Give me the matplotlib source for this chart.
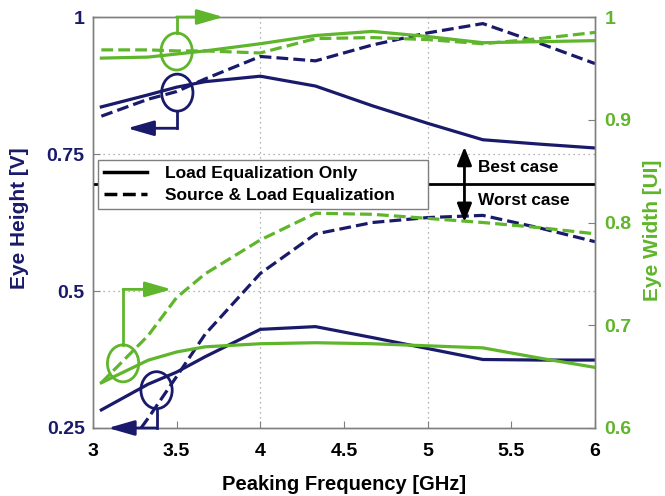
import matplotlib
matplotlib.use('Agg')
import matplotlib.pyplot as plt
from matplotlib.patches import Ellipse
from matplotlib.lines import Line2D

plt.rcParams['font.family'] = ['Liberation Sans', 'DejaVu Sans']
plt.rcParams['font.weight'] = 'bold'

# data
freq = [3.05, 3.33, 3.5, 3.67, 4.0, 4.33, 4.67, 5.0, 5.33, 5.67, 6.0]

# best case (upper curves)
height_best_load = [0.836, 0.858, 0.872, 0.882, 0.892, 0.874, 0.838, 0.806, 0.776, 0.768, 0.761]
height_best_both = [0.819, 0.850, 0.864, 0.887, 0.928, 0.920, 0.949, 0.971, 0.988, 0.952, 0.915]
width_best_load = [0.960, 0.961, 0.964, 0.967, 0.974, 0.982, 0.986, 0.981, 0.975, 0.976, 0.977]
width_best_both = [0.968, 0.968, 0.967, 0.967, 0.965, 0.979, 0.980, 0.978, 0.974, 0.979, 0.985]

# worst case (lower curves)
height_worst_load = [0.283, 0.330, 0.352, 0.380, 0.430, 0.435, 0.415, 0.395, 0.375, 0.374, 0.374]
height_worst_both = [0.150, 0.268, 0.344, 0.421, 0.532, 0.604, 0.625, 0.634, 0.638, 0.615, 0.590]
width_worst_load = [0.644, 0.666, 0.674, 0.679, 0.682, 0.683, 0.682, 0.680, 0.678, 0.668, 0.659]
width_worst_both = [0.644, 0.690, 0.727, 0.750, 0.783, 0.809, 0.808, 0.804, 0.800, 0.795, 0.789]

x_ticks = [3, 3.5, 4, 4.5, 5, 5.5, 6]
x_tick_labels = ['3', '3.5', '4', '4.5', '5', '5.5', '6']
h_ticks = [0.25, 0.5, 0.75, 1]
h_tick_labels = ['0.25', '0.5', '0.75', '1']
w_ticks = [0.6, 0.7, 0.8, 0.9, 1.0]
w_tick_labels = ['0.6', '0.7', '0.8', '0.9', '1']

navy = '#1a1a6b'
green = '#5fb52b'
frame = '#7f7f7f'
lw = 2.3

fig = plt.figure(figsize=(6.65, 4.96), dpi=100)
ax = fig.add_axes([0.1398, 0.1371, 0.7549, 0.8286])
ax2 = ax.twinx()

ax.set_xlim(3, 6)
ax.set_ylim(0.25, 1)
ax2.set_ylim(0.6, 1)

# dotted grid (only a few lines, as in the original)
for gx in [4, 5]:
    ax.axvline(gx, color='#9a9a9a', ls=(0, (1, 3)), lw=0.9, zorder=0)
for gy in [0.5, 0.75]:
    ax.axhline(gy, color='#9a9a9a', ls=(0, (1, 3)), lw=0.9, zorder=0)

# eye height (left axis)
ax.plot(freq, height_best_load, color=navy, lw=lw)
ax.plot(freq, height_best_both, color=navy, lw=lw, ls='--')
ax.plot(freq, height_worst_load, color=navy, lw=lw)
ax.plot(freq, height_worst_both, color=navy, lw=lw, ls='--')

# eye width (right axis)
ax2.plot(freq, width_best_load, color=green, lw=lw)
ax2.plot(freq, width_best_both, color=green, lw=lw, ls='--')
ax2.plot(freq, width_worst_load, color=green, lw=lw)
ax2.plot(freq, width_worst_both, color=green, lw=lw, ls='--')

# separator between best / worst case
ax2.plot([3, 6], [0.695, 0.695], color='black', lw=2, transform=ax.transData, zorder=1)

# legend
handles = [Line2D([], [], color='black', lw=2.5),
           Line2D([], [], color='black', lw=2.5, ls='--')]
leg = ax2.legend(handles, ['Load Equalization Only', 'Source & Load Equalization'],
                 loc='upper left', bbox_to_anchor=(0.01, 0.53, 0.657, 0.122),
                 mode='expand', fancybox=False,
                 framealpha=1, edgecolor=frame, handlelength=2.5,
                 handletextpad=1.0, borderpad=0.35, labelspacing=0.38,
                 borderaxespad=0, prop={'weight': 'bold', 'size': 12.5})
leg.get_frame().set_linewidth(1.0)
leg.set_zorder(5)

# best / worst case arrow
ax2.annotate('', xy=(5.22, 0.763), xytext=(5.22, 0.626), xycoords=ax.transData,
             textcoords=ax.transData,
             arrowprops=dict(arrowstyle='<|-|>,head_length=0.55,head_width=0.22',
                             color='black', lw=2, mutation_scale=20,
                             shrinkA=0, shrinkB=0))
ax2.text(5.30, 0.726, 'Best case', transform=ax.transData, fontsize=12.4,
         fontweight='bold', va='center', ha='left')
ax2.text(5.30, 0.666, 'Worst case', transform=ax.transData, fontsize=12.4,
         fontweight='bold', va='center', ha='left')


def axis_marker(cx, cy, color, corner_y, tip_x, from_top):
    ew, eh = 0.187, 0.0675
    ax2.add_patch(Ellipse((cx, cy), ew, eh, transform=ax.transData, fill=False,
                          edgecolor=color, lw=2, zorder=6, clip_on=False))
    start_y = cy + eh / 2 if from_top else cy - eh / 2
    ax2.plot([cx, cx], [start_y, corner_y], color=color, lw=2,
             transform=ax.transData, clip_on=False, zorder=6)
    ax2.annotate('', xy=(tip_x, corner_y), xytext=(cx, corner_y),
                 xycoords=ax.transData, textcoords=ax.transData,
                 arrowprops=dict(arrowstyle='-|>,head_length=0.8,head_width=0.23',
                                 color=color, lw=2, mutation_scale=20,
                                 shrinkA=0, shrinkB=0),
                 annotation_clip=False, zorder=6)


axis_marker(3.50, 0.937, green, 1.0, 3.78, True)
axis_marker(3.504, 0.862, navy, 0.797, 3.205, False)
axis_marker(3.18, 0.368, green, 0.503, 3.47, True)
axis_marker(3.38, 0.319, navy, 0.25, 3.09, False)

# ticks and labels
ax.set_xticks(x_ticks)
ax.set_xticklabels(x_tick_labels)
ax.set_yticks(h_ticks)
ax.set_yticklabels(h_tick_labels)
ax2.set_yticks(w_ticks)
ax2.set_yticklabels(w_tick_labels)

ax.tick_params(axis='x', direction='in', length=5, color=frame, labelsize=14,
               pad=11, labelcolor='black')
ax.tick_params(axis='y', direction='in', length=5, color=frame, labelsize=14,
               pad=6, labelcolor=navy)
ax2.tick_params(axis='y', direction='in', length=5, color=frame, labelsize=14,
                pad=7, labelcolor=green)

for a in (ax, ax2):
    for s in a.spines.values():
        s.set_color(frame)
        s.set_linewidth(1.0)

ax.set_xlabel('Peaking Frequency [GHz]', fontsize=14.5, fontweight='bold')
ax.xaxis.set_label_coords(0.5, -0.115)
ax.set_ylabel('Eye Height [V]', fontsize=15, fontweight='bold', color=navy)
ax.yaxis.set_label_coords(-0.128, 0.511)
ax2.set_ylabel('Eye Width [UI]', fontsize=15, fontweight='bold', color=green)
ax2.yaxis.set_label_coords(1.095, 0.482)

fig.savefig('out.png', dpi=100)
